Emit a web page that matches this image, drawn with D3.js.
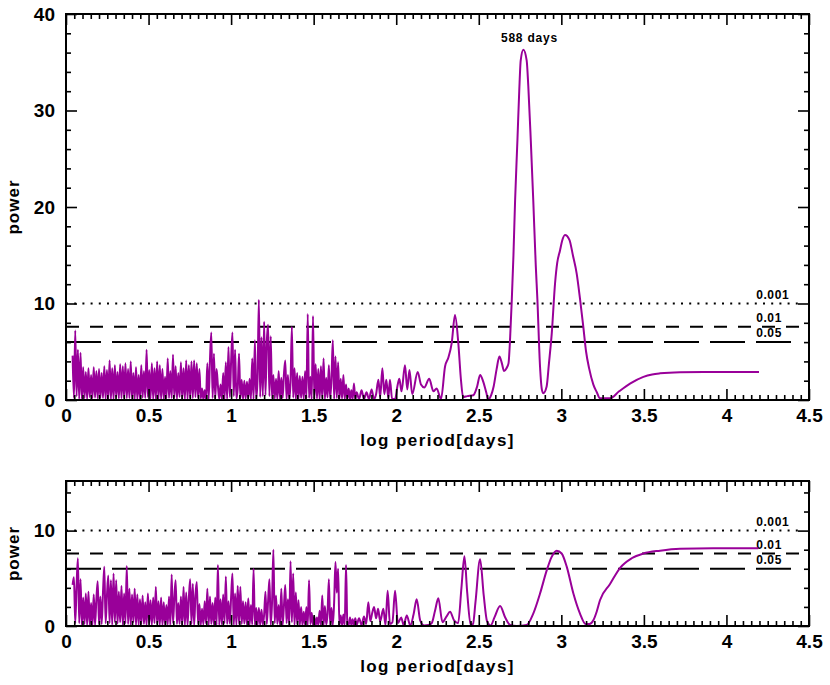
<!DOCTYPE html>
<html><head><meta charset="utf-8">
<script src="https://cdn.jsdelivr.net/npm/d3@7"></script>
<style>body{margin:0;background:#fff}svg{display:block}</style>
</head><body>
<svg id="c" width="830" height="685"></svg>
<script>
// ---------- DATA ----------
const noiseStart = 0.04, noiseStep = 0.008;   // log-period grid of the dense short-period part
const topNoise = [
 4.6,0.2,7.2,0.4,5.2,0.1,4.9,0.1,3.4,0.2,
 2.9,0.1,3.3,0.3,2.6,0.2,3.4,0.25,3.0,0.15,
 3.2,0.2,2.8,0.2,3.5,0.1,3.1,0.1,4.1,0.1,
 3.3,0.1,3.6,0.3,2.9,0.15,3.7,0.2,3.5,0.2,
 3.8,0.2,3.2,0.2,4.0,0.1,2.8,0.1,3.4,0.1,
 2.6,0.1,3.6,0.25,3.0,0.2,5.2,0.3,3.1,0.15,
 3.8,0.1,3.3,0.1,4.0,0.1,3.6,0.1,3.2,0.1,
 2.4,0.15,4.3,0.2,3.0,0.2,4.7,0.25,3.5,0.1,
 2.8,0.3,3.9,0.1,3.3,0.1,4.1,0.1,3.6,0.2,
 4.0,0.2,4.1,0.3,3.8,0.2,3.2,0.15,1.2,0.05,
 1.0,0.1,3.8,0.1,4.2,7.0,0.2,4.8,0.2,3.2,
 1.5,0.1,1.6,0.1,2.8,0.1,3.9,0.1,5.5,0.3,
 4.0,7.0,0.4,5.2,0.15,1.2,4.8,0.2,2.1,0.1,
 2.0,0.15,1.9,0.2,2.2,0.1,4.3,0.1,6.2,0.1,
 2.1,10.4,0.3,6.5,0.4,8.1,0.5,5.9,7.8,0.4,
 6.6,0.1,2.6,0.15,2.2,0.1,3.0,0.1,2.3,0.2,
 2.7,4.1,0.1,2.6,0.1,1.9,7.6,0.25,3.3,0.1,
 2.8,0.1,2.5,0.2,2.4,0.1,3.0,0.15,8.9,0.2,
 2.4,0.1,8.7,0.1,3.7,0.15,3.2,0.1,3.5,0.2,
 4.3,0.1,2.3,0.25,3.6,0.15,2.2,6.2,0.1,4.5,
 0.2,3.9,0.1,2.2,0.15,2.6,0.1,1.6,0.1,1.2,
 0.05,1.0,0.1,1.7,0.05,0.8
];
const topTailX = [1.775,1.79,1.805,1.82,1.835,1.851,1.865,1.878,1.892,1.903,1.916,1.928,1.94,1.952,1.962,1.975,1.993,2.008,2.019,2.032,2.053,2.067,2.08,2.097,2.13,2.15,2.17,2.2,2.225,2.245,2.271,2.296,2.316,2.336,2.356,2.376,2.392,2.405,2.43,2.467,2.49,2.508,2.527,2.545,2.558,2.575,2.59,2.608,2.625,2.64,2.653,2.668,2.68,2.69,2.70,2.71,2.72,2.734,2.745,2.754,2.77,2.79,2.80,2.815,2.83,2.845,2.855,2.871,2.883,2.891,2.911,2.925,2.942,2.962,2.975,2.992,3.005,3.022,3.049,3.07,3.093,3.113,3.133,3.15,3.168,3.194,3.215,3.234,3.295,3.35,3.416,3.497,3.55,3.598,3.719,3.92,4.197];
const topTailY = [0.1,1.0,0.1,0.8,0.1,1.1,0.1,0.6,2.1,0.3,3.3,0.6,2.1,0.2,2.1,0.1,0.1,1.5,2.2,0.9,3.6,1.1,3.1,0.6,2.9,1.6,1.3,2.2,0.9,1.2,0.1,3.5,4.4,5.9,8.8,5.9,2.1,0.3,0.4,0.5,1.4,2.6,1.9,0.8,0.05,0.5,1.4,3.2,4.5,3.8,3.0,3.3,3.8,6.5,10.4,15.0,20.7,26.9,32.0,35.2,36.3,35.2,32.5,26.9,20.7,14.0,10.4,3.45,1.0,0.7,1.4,3.8,6.9,12.1,14.2,15.5,16.5,17.1,16.6,15.0,13.1,10.5,7.6,5.0,3.3,1.6,0.8,0.17,0.17,0.9,1.7,2.4,2.65,2.76,2.87,2.9,2.9];

const botNoise = [
 4.3,5.1,0.3,4.2,7.1,0.3,4.9,0.1,3.0,0.2,
 3.4,0.1,3.6,0.1,2.4,0.1,3.3,0.1,2.8,4.7,
 0.2,3.1,0.2,3.5,6.2,0.3,3.2,5.3,0.3,4.8,
 0.1,5.5,0.4,4.8,0.25,3.6,0.4,4.2,0.1,3.4,
 0.3,6.3,0.2,3.9,0.1,3.3,0.4,3.9,0.1,3.3,
 0.1,2.8,0.2,3.2,0.2,2.5,0.1,3.4,0.25,2.7,
 0.1,3.0,0.3,4.1,0.2,2.6,0.1,3.0,0.1,2.5,
 0.1,2.2,0.15,3.1,0.1,5.4,0.3,2.9,4.8,0.2,
 2.4,0.2,3.1,0.1,4.1,0.1,3.5,0.1,2.9,4.9,
 0.2,4.4,0.1,3.2,4.6,0.2,2.3,0.1,1.8,0.15,
 2.6,0.25,3.9,0.1,3.1,0.2,2.4,0.1,3.0,0.1,
 6.4,0.1,2.8,0.15,3.3,0.3,5.2,0.2,2.6,0.25,
 3.0,5.5,0.1,3.4,0.1,4.2,0.2,4.1,0.2,2.6,
 0.25,2.5,0.1,2.9,0.1,2.2,0.15,6.0,0.1,1.9,
 0.1,1.9,0.1,1.7,0.15,1.2,3.6,0.2,2.6,4.9,
 0.1,2.5,8.0,0.3,3.2,0.2,2.2,0.1,3.9,0.1,
 2.1,4.3,0.3,2.8,0.1,6.8,0.4,5.5,0.1,3.5,
 0.2,2.7,0.1,2.0,0.1,1.5,0.1,2.0,0.1,4.8,
 0.2,1.4,0.1,1.0,0.05,0.9,0.1,1.6,0.1,3.2,
 0.1,2.1,0.15,1.3,4.9,0.1,1.9,0.1,2.5,6.7,
 3.5,6.0,0.1,1.1,0.1,1.2,0.1,6.4,0.2,0.1,
 0.9,0.1,0.7,0.05,0.8,0.1
];
const botTailX = [1.775,1.79,1.805,1.818,1.831,1.843,1.855,1.866,1.878,1.89,1.903,1.922,1.935,1.948,1.962,1.977,1.993,2.01,2.03,2.045,2.064,2.085,2.105,2.124,2.145,2.17,2.195,2.215,2.235,2.255,2.28,2.305,2.326,2.35,2.375,2.395,2.413,2.43,2.451,2.465,2.48,2.508,2.53,2.55,2.572,2.595,2.629,2.66,2.69,2.73,2.79,2.83,2.871,2.911,2.94,2.972,3.002,3.033,3.073,3.113,3.147,3.17,3.194,3.214,3.234,3.295,3.356,3.426,3.497,3.598,3.719,3.92,4.193];
const botTailY = [0.8,0.1,1.0,0.2,2.5,0.5,1.4,2.0,0.8,1.8,0.5,1.8,0.1,3.7,0.2,0.4,3.7,0.3,0.9,0.1,1.1,0.05,1.2,2.8,0.6,0.05,0.1,0.3,1.6,2.9,0.4,1.0,1.5,0.6,0.3,4.0,7.3,3.5,0.1,0.2,2.5,7.0,3.2,0.5,0.05,0.9,2.1,0.9,0.1,0.0,0.1,1.3,3.4,5.8,7.2,7.9,7.6,6.2,3.4,1.3,0.2,0.2,0.6,1.5,2.7,4.4,6.1,7.1,7.6,7.9,8.1,8.15,8.15];

const fapLevels = [10, 7.6, 6.0];
const fapLabels = ["0.001", "0.01", "0.05"];
const xMajorTicks = [0,0.5,1,1.5,2,2.5,3,3.5,4,4.5];
const xTickLabels = ["0","0.5","1","1.5","2","2.5","3","3.5","4","4.5"];
const topYMajor = [0,10,20,30,40], topYLabels = ["0","10","20","30","40"];
const botYMajor = [0,10], botYLabels = ["0","10"];
const peakText = "588 days", peakLogP = 2.807, peakPower = 36.3;
const xTitle = "log period[days]", yTitle = "power";

// ---------- DRAW ----------
const svg = d3.select("#c");
const FONT = "'Liberation Sans', Arial, Helvetica, sans-serif";
const PURPLE = "#990099";
const x = d3.scaleLinear([0, 4.5], [66, 809]);
const xMinor = d3.range(0, 4.5001, 0.05).map(v => +v.toFixed(2)).filter(v => !xMajorTicks.some(m => Math.abs(m - v) < 1e-6));

function build(noise, tx, ty) {
  const pts = noise.map((v, i) => [noiseStart + i * noiseStep, v]);
  tx.forEach((xx, i) => pts.push([xx, ty[i]]));
  return pts;
}

function panel(top, bottom, yMax, yMajor, yLabels, yMinorStep, pts, annotate) {
  const y = d3.scaleLinear([0, yMax], [bottom, top]);
  const g = svg.append("g");
  const yMinor = d3.range(0, yMax + 0.001, yMinorStep).filter(v => !yMajor.includes(v));

  // FAP level lines
  const dashes = ["2,6.2", "13,11", "35,11"];
  fapLevels.forEach((lv, i) => {
    g.append("line").attr("x1", x(0)).attr("x2", x(4.45))
      .attr("y1", y(lv)).attr("y2", y(lv))
      .attr("stroke", "#000").attr("stroke-width", 2)
      .attr("stroke-dasharray", dashes[i]);
    g.append("text").attr("x", x(4.18)).attr("y", y(lv) - 5)
      .attr("font-family", FONT).attr("font-weight", "bold").attr("font-size", 12)
      .attr("letter-spacing", 0.6).text(fapLabels[i]);
  });

  // periodogram
  g.append("path").datum(pts)
    .attr("d", d3.line().x(d => x(d[0])).y(d => y(d[1])).curve(d3.curveMonotoneX))
    .attr("fill", "none").attr("stroke", PURPLE).attr("stroke-width", 2)
    .attr("stroke-linejoin", "round");

  // axes (ticks inward on all sides)
  const styleAxis = sel => {
    sel.select(".domain").remove();
    sel.selectAll("line").attr("stroke", "#000").attr("stroke-width", 1.6);
    sel.selectAll("text").attr("font-family", FONT).attr("font-weight", "bold")
      .attr("font-size", 19).attr("fill", "#000");
  };
  g.append("g").attr("transform", `translate(0,${bottom})`)
    .call(d3.axisBottom(x).tickValues(xMajorTicks).tickSize(-11).tickPadding(9)
      .tickFormat((d, i) => xTickLabels[i])).call(styleAxis);
  g.append("g").attr("transform", `translate(0,${bottom})`)
    .call(d3.axisBottom(x).tickValues(xMinor).tickSize(-5).tickFormat("")).call(styleAxis);
  g.append("g").attr("transform", `translate(0,${top})`)
    .call(d3.axisTop(x).tickValues(xMajorTicks).tickSize(-11).tickFormat("")).call(styleAxis);
  g.append("g").attr("transform", `translate(0,${top})`)
    .call(d3.axisTop(x).tickValues(xMinor).tickSize(-5).tickFormat("")).call(styleAxis);
  g.append("g").attr("transform", `translate(${x(0)},0)`)
    .call(d3.axisLeft(y).tickValues(yMajor).tickSize(-11).tickPadding(11)
      .tickFormat((d, i) => yLabels[i])).call(styleAxis);
  g.append("g").attr("transform", `translate(${x(0)},0)`)
    .call(d3.axisLeft(y).tickValues(yMinor).tickSize(-5).tickFormat("")).call(styleAxis);
  g.append("g").attr("transform", `translate(${x(4.5)},0)`)
    .call(d3.axisRight(y).tickValues(yMajor).tickSize(-11).tickFormat("")).call(styleAxis);
  g.append("g").attr("transform", `translate(${x(4.5)},0)`)
    .call(d3.axisRight(y).tickValues(yMinor).tickSize(-5).tickFormat("")).call(styleAxis);

  // frame
  g.append("rect").attr("x", x(0)).attr("y", top).attr("width", x(4.5) - x(0))
    .attr("height", bottom - top).attr("fill", "none").attr("stroke", "#000").attr("stroke-width", 2);

  // titles
  g.append("text").attr("x", (x(0) + x(4.5)) / 2).attr("y", bottom + 46)
    .attr("text-anchor", "middle").attr("font-family", FONT).attr("font-weight", "bold")
    .attr("font-size", 17).attr("letter-spacing", 1.4).text(xTitle);
  g.append("text").attr("transform", `translate(19,${(top + bottom) / 2}) rotate(-90)`)
    .attr("text-anchor", "middle").attr("font-family", FONT).attr("font-weight", "bold")
    .attr("font-size", 17).attr("letter-spacing", 1).text(yTitle);

  if (annotate) {
    g.append("text").attr("x", x(peakLogP)).attr("y", y(peakPower) - 8)
      .attr("text-anchor", "middle").attr("font-family", FONT).attr("font-weight", "bold")
      .attr("font-size", 12).attr("letter-spacing", 0.8).text(peakText);
  }
}

panel(14, 400, 40, topYMajor, topYLabels, 2, build(topNoise, topTailX, topTailY), true);
panel(481, 626, 15.2, botYMajor, botYLabels, 2, build(botNoise, botTailX, botTailY), false);
</script>
</body></html>
